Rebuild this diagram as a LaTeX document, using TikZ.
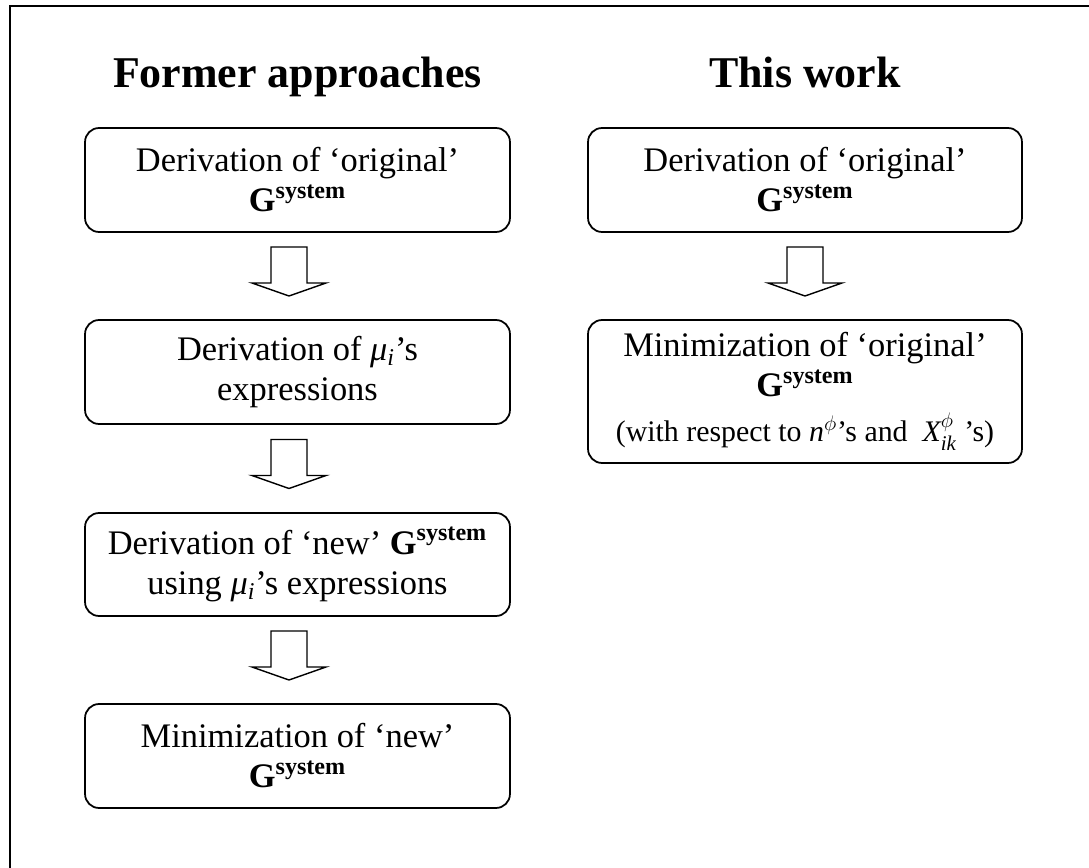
\documentclass[tikz,border=0pt]{standalone}
\usepackage{amsmath}
\usepackage{fontspec}
\setmainfont{Liberation Serif}
\usepackage{tikz}
\usetikzlibrary{positioning,calc}

\newcommand{\Gsys}{\textbf{G\textsuperscript{system}}}
\newcommand{\mui}{\textit{μ\textsubscript{i}}}
\newcommand{\flowarrow}[3]{\draw[blockarrow] ($(#1.south)!0.5!(#2.north)+(#3,0)+(-18,-29)$) -- ++(36,0) -- ++(0,36) -- ++(19,0) -- ++(-37,13) -- ++(-37,-13) -- ++(19,0) -- cycle;}

\begin{document}
\begin{tikzpicture}[x=0.02cm, y=-0.02cm,
    stepbox/.style={draw, line width=1pt, rounded corners=0.28cm, align=center, inner sep=0pt,
        minimum height=2.08cm, font=\fontsize{19.6}{22.8}\selectfont},
    leftbox/.style={stepbox, minimum width=8.5cm},
    rightbox/.style={stepbox, minimum width=8.68cm},
    heading/.style={font=\fontsize{25}{29}\selectfont\bfseries, anchor=base},
    blockarrow/.style={draw, line width=0.8pt, fill=white, line join=miter}]

    \useasboundingbox (0,0) rectangle (1089,868);
    % Frame (top and left edges only)
    \draw[line width=0.85pt] (10,868) -- (10,6) -- (1089,6);

    % Former approaches
    \node[heading] (former) at (297.5,88) {Former approaches};
    \node[leftbox] (l1) at (297.5,180) {Derivation of ‘original’\\ \Gsys};
    \node[leftbox] (l2) at (297.5,372) {Derivation of \mui’s\\ expressions};
    \node[leftbox, minimum height=2.06cm] (l3) at (297.5,564.5) {Derivation of ‘new’ \Gsys\\ using \mui’s expressions};
    \node[leftbox] (l4) at (297.5,756) {Minimization of ‘new’\\ \Gsys};

    % This work
    \node[heading] (thiswork) at (805,88) {This work};
    \node[rightbox] (r1) at (805,180) {Derivation of ‘original’\\ \Gsys};
    \node[rightbox, minimum height=2.86cm] (r2) at (805,391.5) {Minimization of ‘original’\\ \Gsys\\[3pt]
        {\fontsize{17}{20}\selectfont (with respect to $\textit{n}^{\phi}$’s and\ \ $\textit{X}^{\phi}_{\textit{ik}}$ ’s)}};

    % Block arrows between the steps
    \foreach \a/\b/\dx in {l1/l2/-8.5, l2/l3/-8.5, l3/l4/-8.5, r1/r2/0} \flowarrow{\a}{\b}{\dx};
\end{tikzpicture}
\end{document}
